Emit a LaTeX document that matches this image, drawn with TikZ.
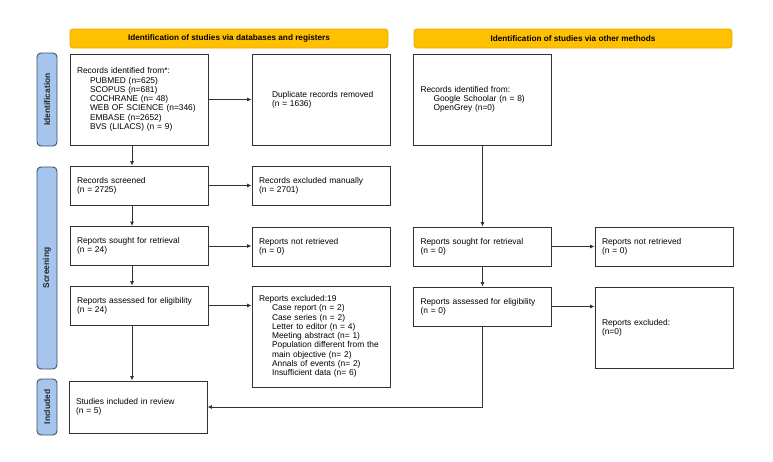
\documentclass[tikz,border=0pt]{standalone}
\usepackage{fontspec}
\setmainfont{Liberation Sans}
\usetikzlibrary{positioning}
\usetikzlibrary{arrows.meta}
\definecolor{phasefill}{RGB}{166,197,236}
\definecolor{phaseline}{RGB}{62,78,100}
\definecolor{headfill}{RGB}{255,192,0}
\definecolor{headline}{RGB}{232,172,0}
\definecolor{boxline}{RGB}{50,50,50}

\begin{document}
\begin{tikzpicture}[x=1pt,y=-1pt,
	box/.style={draw=boxline,line width=0.9pt,rectangle,align=left,inner xsep=7pt,inner ysep=0pt,text width=124pt,minimum height=#1,font=\fontsize{8.4}{9.3}\selectfont},
	box/.default=39pt,
	headbox/.style={draw=headline,fill=headfill,line width=0.8pt,rounded corners=3pt,minimum width=318pt,minimum height=19pt,inner sep=0pt,font=\fontsize{8.2}{9}\selectfont\bfseries},
	phasebox/.style={draw=phaseline,fill=phasefill,line width=0.9pt,rounded corners=4pt,rotate=90,minimum width=#1,minimum height=20pt,inner sep=0pt,font=\fontsize{8.4}{9}\selectfont\bfseries,text=black!85},
	arr/.style={-{Latex[length=4.5pt,width=4pt]},line width=0.8pt,draw=boxline}]
	\useasboundingbox (0,0) rectangle (773,461);
	\node[headbox] (hdb) at (229,38.5) {Identification of studies via databases and registers};
	\node[headbox] (hoth) at (573,38.5) {Identification of studies via other methods};
	\node[phasebox=93pt] (pid) at (47,99.5) {Identification};
	\node[phasebox=202pt] (pscr) at (47,268) {Screening};
	\node[phasebox=56pt] (pinc) at (47,407) {Included};
	\node[box=91pt] (rec) at (139,99.5) {Records identified from*:\\
		\hspace*{13pt}PUBMED (n=625)\\
		\hspace*{13pt}SCOPUS (n=681)\\
		\hspace*{13pt}COCHRANE (n= 48)\\
		\hspace*{13pt}WEB OF SCIENCE (n=346)\\
		\hspace*{13pt}EMBASE (n=2652)\\
		\hspace*{13pt}BVS (LILACS) (n = 9)};
	\node[box=91pt] (dup) at (321,99.5) {\hspace*{13pt}Duplicate records removed\\\hspace*{13pt}(n = 1636)};
	\node[box] (scr) at (139,185.5) {Records screened\\(n = 2725)};
	\node[box] (man) at (321,185.5) {Records excluded manually\\(n = 2701)};
	\node[box] (sou) at (139,246) {Reports sought for retrieval\\(n = 24)};
	\node[box] (nret) at (321,247) {Reports not retrieved\\(n = 0)};
	\node[box] (ass) at (139,305.5) {Reports assessed for eligibility\\(n = 24)};
	\node[box=101pt] (exc) at (321,336.5) {Reports excluded:19\\
		\hspace*{13pt}Case report (n = 2)\\
		\hspace*{13pt}Case series (n = 2)\\
		\hspace*{13pt}Letter to editor (n = 4)\\
		\hspace*{13pt}Meeting abstract (n= 1)\\
		\hspace*{13pt}Population different from the\\
		\hspace*{13pt}main objective (n= 2)\\
		\hspace*{13pt}Annals of events (n= 2)\\
		\hspace*{13pt}Insufficient data (n= 6)};
	\node[box=52pt] (inc) at (138,407) {Studies included in review\\(n = 5)};
	\node[box=91pt] (orec) at (482.5,99.5) {Records identified from:\\
		\hspace*{13pt}Google Schoolar (n = 8)\\
		\hspace*{13pt}OpenGrey (n=0)\\[4pt]};
	\node[box] (osou) at (482.5,246.5) {Reports sought for retrieval\\(n = 0)};
	\node[box] (onret) at (664,247) {Reports not retrieved\\(n = 0)};
	\node[box] (oass) at (482.5,306.5) {Reports assessed for eligibility\\(n = 0)};
	\node[box=81pt] (oexc) at (664,327.5) {Reports excluded:\\(n=0)\\[6pt]};
	\draw[arr] (rec.east) -- (rec.east -| dup.west);
	\draw[arr] ([xshift=-7pt]rec.south) -- ([xshift=-7pt]scr.north);
	\draw[arr] (scr.east) -- (scr.east -| man.west);
	\draw[arr] ([xshift=-7pt]scr.south) -- ([xshift=-7pt]sou.north);
	\draw[arr] (sou.east) -- (sou.east -| nret.west);
	\draw[arr] ([xshift=-7pt]sou.south) -- ([xshift=-7pt]ass.north);
	\draw[arr] (ass.east) -- (ass.east -| exc.west);
	\draw[arr] ([xshift=-7pt]ass.south) -- ([xshift=-6pt]inc.north);
	\draw[arr] (orec.south) -- (osou.north);
	\draw[arr] (osou.east) -- (osou.east -| onret.west);
	\draw[arr] (osou.south) -- (oass.north);
	\draw[arr] (oass.east) -- (oass.east -| oexc.west);
	\draw[arr] (oass.south) |- (inc.east);
\end{tikzpicture}
\end{document}
